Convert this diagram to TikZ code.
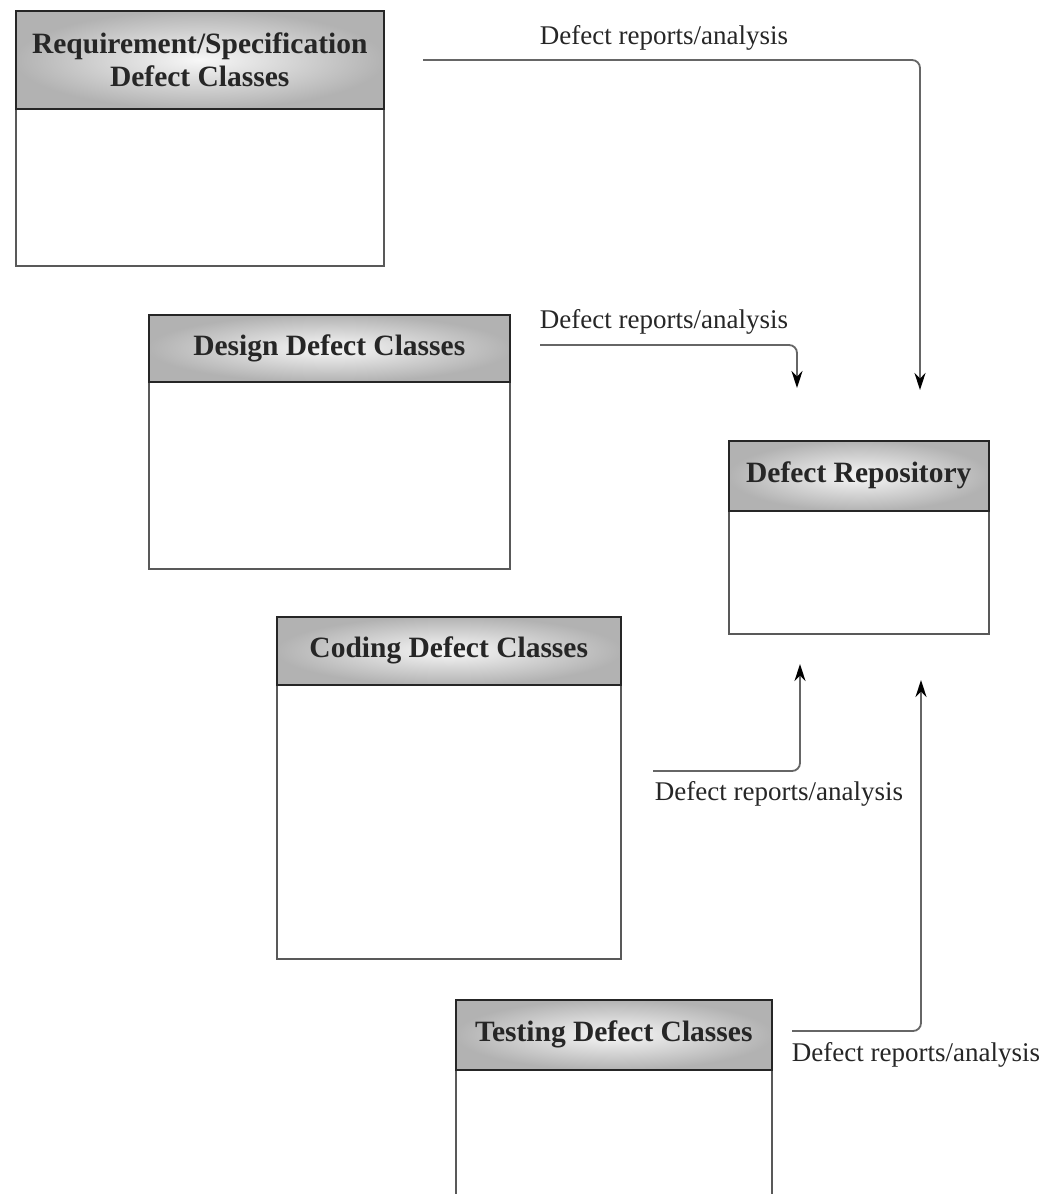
\documentclass[tikz,border=0pt]{standalone}
\usepackage{fontspec}
\setmainfont{Liberation Serif}
\usetikzlibrary{arrows.meta}
\begin{document}
\begin{tikzpicture}[x=1pt,y=-1pt,
  hdr/.style={draw=black!85, line width=1.5pt, inner color=gray!6, outer color=gray!60,
    font=\bfseries\fontsize{29.5}{33}\selectfont, text=black!85, align=center,
    anchor=north west, inner sep=0pt},
  body/.style={draw=black!65, line width=1.5pt, fill=white, anchor=north west, inner sep=0pt},
  flow/.style={draw=black!60, line width=1.8pt, rounded corners=8pt,
    -{Stealth[length=17pt,width=11pt,black]}},
  lbl/.style={font=\fontsize{27}{29}\selectfont, text=black!85, inner sep=0pt}]
\clip (0,0) rectangle (1047,1194);
\fill[white] (0,0) rectangle (1047,1194);

% Requirement/Specification
\node[body, minimum width=368, minimum height=255] (reqb) at (15,10) {};
\node[hdr, minimum width=368, minimum height=98] (req) at (15,10) {Requirement/Specification\\Defect Classes};
% Design
\node[body, minimum width=361, minimum height=254] (desb) at (148,314) {};
\node[hdr, minimum width=361, minimum height=67] (des) at (148,314) {Design Defect Classes};
% Coding
\node[body, minimum width=344, minimum height=342] (codb) at (276,616) {};
\node[hdr, minimum width=344, minimum height=68] (cod) at (276,616) {Coding Defect Classes};
% Testing
\node[body, minimum width=316, minimum height=230] (tstb) at (455,999) {};
\node[hdr, minimum width=316, minimum height=70] (tst) at (455,999) {Testing Defect Classes};
% Repository
\node[body, minimum width=260, minimum height=193] (repb) at (728,440) {};
\node[hdr, minimum width=260, minimum height=70] (rep) at (728,440) {Defect Repository};

% connector end points
\coordinate (s1) at (423,60);   \coordinate (e1) at (920,390);
\coordinate (s2) at (540,345);  \coordinate (e2) at (797,388);
\coordinate (s3) at (653,771);  \coordinate (e3) at (800,664);
\coordinate (s4) at (792,1031); \coordinate (e4) at (921,680);

\draw[flow] (s1) -| (e1);
\draw[flow] (s2) -| (e2);
\draw[flow] (s3) -| (e3);
\draw[flow] (s4) -| (e4);

\node[lbl] (l1) at (664,38) {Defect reports/analysis};
\node[lbl] (l2) at (664,322) {Defect reports/analysis};
\node[lbl] (l3) at (779,794) {Defect reports/analysis};
\node[lbl] (l4) at (916,1055) {Defect reports/analysis};
\end{tikzpicture}
\end{document}
